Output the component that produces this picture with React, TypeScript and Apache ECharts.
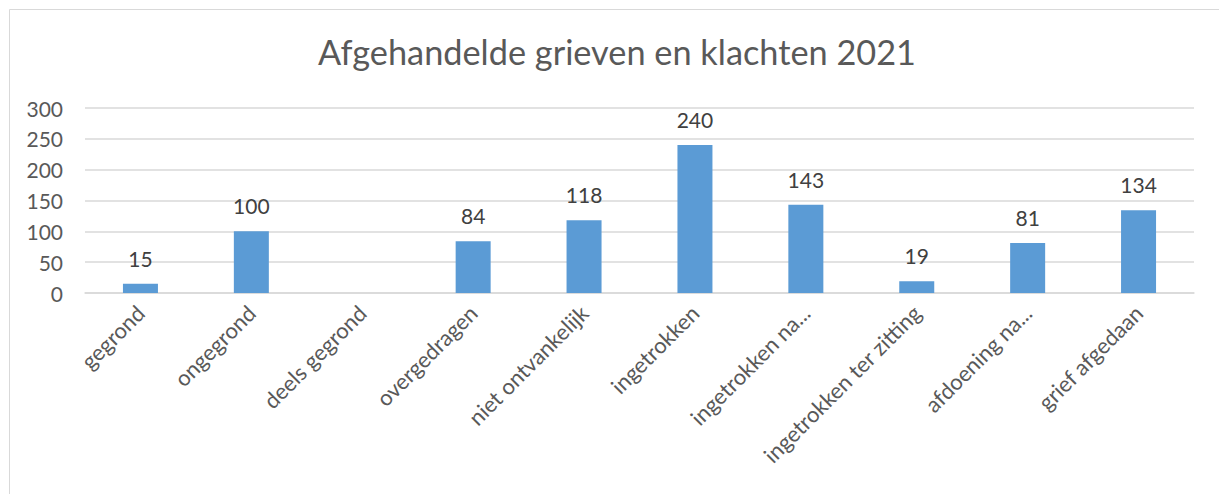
import React, { useEffect, useRef } from "react";
import * as echarts from "echarts";

const titleText = "Afgehandelde grieven en klachten 2021";
const categories = [
  "gegrond",
  "ongegrond",
  "deels gegrond",
  "overgedragen",
  "niet ontvankelijk",
  "ingetrokken",
  "ingetrokken na...",
  "ingetrokken ter zitting",
  "afdoening na...",
  "grief afgedaan",
];
const values: (number | null)[] = [15, 100, null, 84, 118, 240, 143, 19, 81, 134];
const yMin = 0;
const yMax = 300;
const yInterval = 50;

const FONT = "Lato, 'Open Sans', 'Liberation Sans', sans-serif";

export default function App() {
  const ref = useRef<HTMLDivElement>(null);
  useEffect(() => {
    if (!ref.current) return;
    const chart = echarts.init(ref.current, undefined, { renderer: "svg" });
    chart.setOption({
      animation: false,
      backgroundColor: "#ffffff",
      title: {
        text: titleText,
        left: 313,
        top: 29,
        textStyle: {
          fontFamily: FONT,
          fontSize: 34.3,
          fontWeight: "normal",
          color: "#595959",
        },
      },
      graphic: [
        {
          type: "rect",
          shape: { x: 9.5, y: 9.5, width: 1230, height: 500 },
          style: { fill: "none", stroke: "#D9D9D9", lineWidth: 1 },
          silent: true,
        },
      ],
      grid: { left: 85, right: 25, top: 108, bottom: 201, containLabel: false },
      xAxis: {
        type: "category",
        data: categories,
        axisLine: { show: true, lineStyle: { color: "#D9D9D9", width: 1.5 } },
        axisTick: { show: false },
        axisLabel: {
          rotate: 45,
          interval: 0,
          margin: 16,
          fontFamily: FONT,
          fontSize: 22,
          color: "#595959",
        },
      },
      yAxis: {
        type: "value",
        min: yMin,
        max: yMax,
        interval: yInterval,
        axisLine: { show: false },
        axisTick: { show: false },
        splitLine: { lineStyle: { color: "#D9D9D9", width: 1.5 } },
        axisLabel: {
          margin: 22,
          fontFamily: FONT,
          fontSize: 21,
          color: "#595959",
        },
      },
      series: [
        {
          type: "bar",
          data: values,
          barWidth: 35,
          itemStyle: { color: "#5B9BD5" },
          label: {
            show: true,
            position: "top",
            distance: 15,
            fontFamily: FONT,
            fontSize: 21,
            color: "#404040",
          },
        },
      ],
    });
    return () => chart.dispose();
  }, []);
  return (
    <div
      ref={ref}
      style={{ position: "absolute", left: 0, top: 0, width: 1219, height: 494 }}
    />
  );
}
